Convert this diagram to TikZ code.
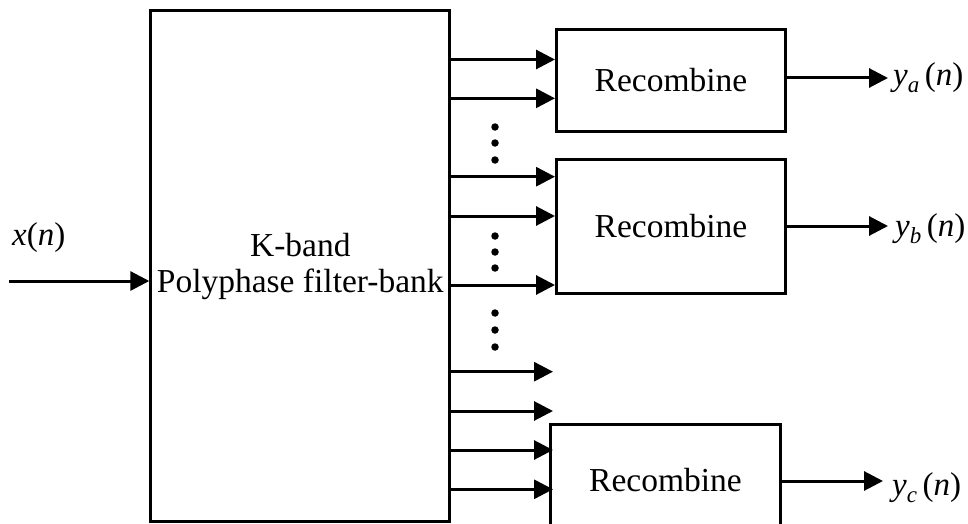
\documentclass[tikz,border=0pt]{standalone}
\usepackage{fontspec}
\setmainfont{Liberation Serif}
\usetikzlibrary{arrows.meta}
\begin{document}
\begin{tikzpicture}[x=1pt,y=-1pt,
  blk/.style={draw, line width=3pt, inner sep=0pt, align=center,
              font=\fontsize{33.5}{36}\selectfont},
  arr/.style={line width=3pt, -{Triangle[length=19pt,width=19pt]}},
  lbl/.style={font=\fontsize{33}{36}\selectfont, inner sep=0pt},
  dotmark/.style={circle, fill, inner sep=0pt, minimum size=7.5pt}]
\useasboundingbox (0,0) rectangle (968,524);
\clip (0,0) rectangle (968,524);

% filter bank and the three recombiners
\node[blk, minimum width=299pt, minimum height=511pt] (fb) at (300.3,266.3)
  {K-band\\Polyphase filter-bank};
\node[blk, minimum width=229pt, minimum height=101pt] (r1) at (671,80.5) {Recombine};
\node[blk, minimum width=229pt, minimum height=134pt] (r2) at (671,226.5) {Recombine};
\node[blk, minimum width=230pt, minimum height=112pt] (r3) at (665.5,480) {Recombine};

% input
\coordinate (xin) at (9,281);
\draw[arr] (xin) -- (xin -| fb.west);
\node[lbl, anchor=base west] (xl) at (12,245) {\textit{x}(\textit{n})};

% sub-band outputs into the recombiners
\foreach \yy in {59.5,98.3} \draw[arr] (fb.east |- 0,\yy) -- (r1.west |- 0,\yy);
\foreach \yy in {176.7,216,285} \draw[arr] (fb.east |- 0,\yy) -- (r2.west |- 0,\yy);
\foreach \yy [count=\k] in {371.7,411,450,489.3} {
  \coordinate (end\k) at (553,\yy);
  \draw[arr] (fb.east |- end\k) -- (end\k);
}

% ellipsis dots
\foreach \yy [count=\k] in {127,143,160,236,252,268,313,330,347}
  \node[dotmark] (dot\k) at (495,\yy) {};

% recombined outputs
\coordinate (ya) at (888,78);
\coordinate (yb) at (888,226);
\coordinate (yc) at (883,481);
\draw[arr] (r1.east |- ya) -- (ya);
\draw[arr] (r2.east |- yb) -- (yb);
\draw[arr] (r3.east |- yc) -- (yc);
\node[lbl, anchor=base west] (la) at (893,86)
  {\textit{y}\raisebox{-7pt}{\fontsize{23}{24}\selectfont\textit{a}}\,(\textit{n})};
\node[lbl, anchor=base west] (lb) at (895,236)
  {\textit{y}\raisebox{-7pt}{\fontsize{23}{24}\selectfont\textit{b}}\,(\textit{n})};
\node[lbl, anchor=base west] (lc) at (892,495)
  {\textit{y}\raisebox{-7pt}{\fontsize{23}{24}\selectfont\textit{c}}\,(\textit{n})};
\end{tikzpicture}
\end{document}
